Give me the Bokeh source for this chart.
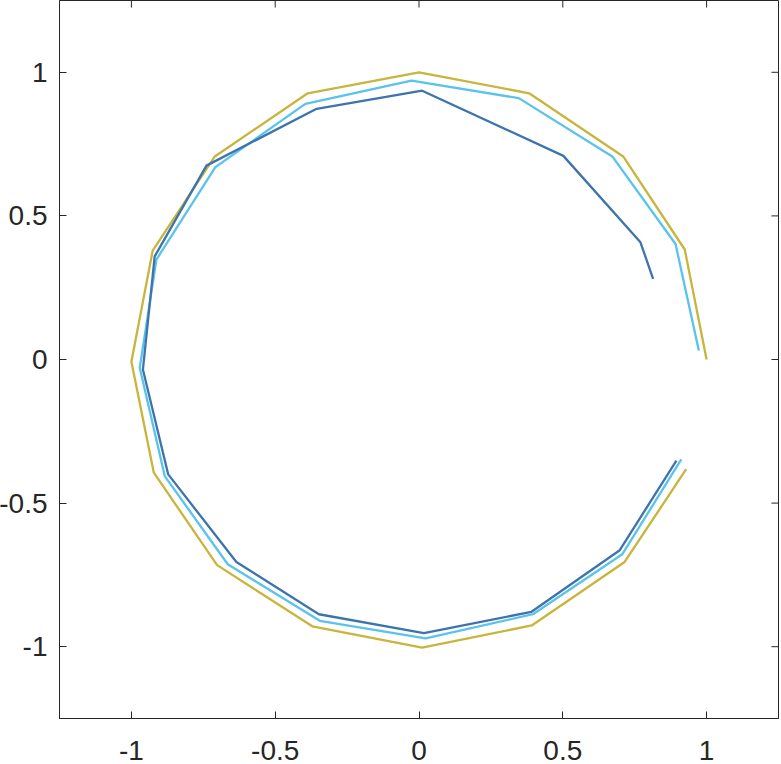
from bokeh.plotting import figure
from bokeh.models import LinearAxis, Range1d, FixedTicker
from bokeh.embed import file_html
from bokeh.resources import INLINE

# Yellow (outer) polygon
yel_x = [1.0, 0.924, 0.710, 0.383, 0.0, -0.387, -0.710, -0.926, -1.0, -0.922, -0.702, -0.371, 0.011, 0.392, 0.715, 0.929]
yel_y = [0.0, 0.383, 0.707, 0.927, 1.0, 0.927, 0.707, 0.379, -0.008, -0.394, -0.716, -0.929, -1.003, -0.926, -0.705, -0.382]

# Light blue polygon
lb_x = [0.973, 0.892, 0.672, 0.347, -0.026, -0.395, -0.708, -0.913, -0.971, -0.884, -0.665, -0.345, 0.023, 0.396, 0.707, 0.912]
lb_y = [0.031, 0.402, 0.707, 0.910, 0.971, 0.890, 0.670, 0.348, -0.029, -0.406, -0.713, -0.910, -0.971, -0.887, -0.678, -0.348]

# Dark blue polygon
db_x = [0.814, 0.770, 0.502, 0.011, -0.356, -0.739, -0.919, -0.960, -0.872, -0.635, -0.348, 0.017, 0.390, 0.698, 0.895]
db_y = [0.281, 0.408, 0.709, 0.936, 0.873, 0.675, 0.359, -0.035, -0.400, -0.705, -0.887, -0.953, -0.879, -0.664, -0.352]

ticks = [-1, -0.5, 0, 0.5, 1]
tick_labels = {-1: "-1", -0.5: "-0.5", 0: "0", 0.5: "0.5", 1: "1"}
lim = [-1.25, 1.25]

AX = "#262626"
FONT = "Liberation Sans"
FS = "28px"
TICK_LEN = 0.0245  # about 7px in data units

p = figure(output_backend="svg", toolbar_location=None,
           frame_width=719, frame_height=718,
           x_range=Range1d(*lim), y_range=Range1d(*lim),
           min_border_left=59, min_border_right=2, min_border_top=0, min_border_bottom=44,
           x_axis_location=None, y_axis_location=None)
p.styles = {"margin-left": "-4px", "margin-top": "0px"}
p.grid.visible = False
p.background_fill_color = "white"
p.border_fill_color = "white"
p.outline_line_color = AX
p.outline_line_width = 1

def make_axis(standoff):
    ax = LinearAxis(ticker=FixedTicker(ticks=ticks))
    ax.major_label_overrides = tick_labels
    ax.axis_line_color = AX
    ax.major_tick_line_color = AX
    ax.major_tick_in = 7
    ax.major_tick_out = 0
    ax.minor_tick_line_color = None
    ax.major_label_text_font = FONT
    ax.major_label_text_color = AX
    ax.major_label_text_font_size = FS
    ax.major_label_standoff = standoff
    return ax

p.add_layout(make_axis(22), "below")
p.add_layout(make_axis(12), "left")

# mirrored inward ticks on the top and right edges of the box
n = len(ticks)
p.segment(x0=ticks, y0=[lim[1]] * n, x1=ticks, y1=[lim[1] - TICK_LEN] * n,
          line_color=AX, line_width=1)
p.segment(x0=[lim[1]] * n, y0=ticks, x1=[lim[1] - TICK_LEN] * n, y1=ticks,
          line_color=AX, line_width=1)

p.line(yel_x, yel_y, line_color="#C9B43C", line_width=2.3)
p.line(lb_x, lb_y, line_color="#5AC3EC", line_width=2.3)
p.line(db_x, db_y, line_color="#3E74AC", line_width=2.3)

open("out.html", "w").write(file_html(p, INLINE))
